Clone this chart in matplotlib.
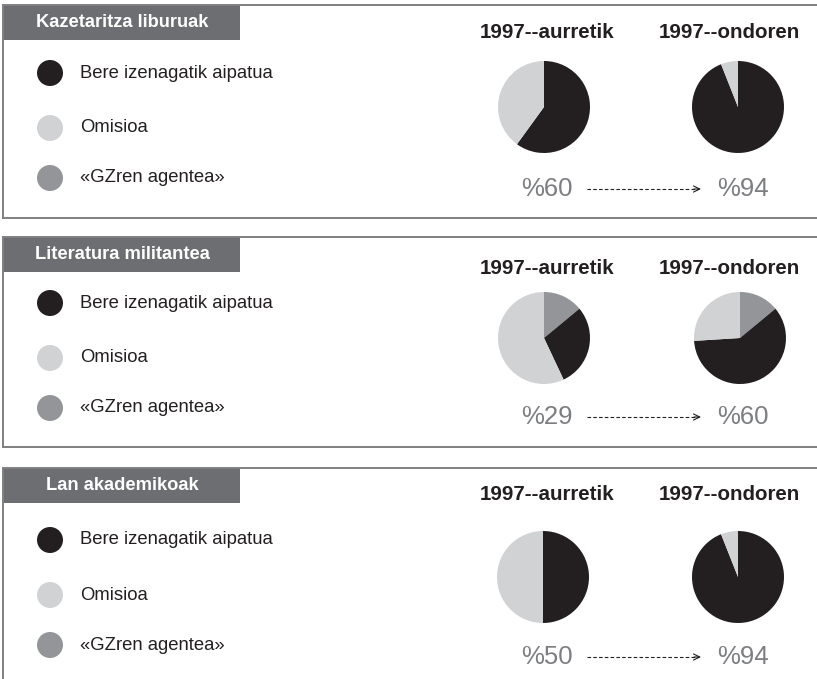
import matplotlib.pyplot as plt
from matplotlib.patches import Rectangle, Circle

plt.rcParams['font.family'] = ['Liberation Sans', 'DejaVu Sans']

W, H = 817, 679

# data
panel_titles = ["Kazetaritza liburuak", "Literatura militantea", "Lan akademikoak"]
legend_labels = ["Bere izenagatik aipatua", "Omisioa", "\u00abGZren agentea\u00bb"]
period_labels = ["1997--aurretik", "1997--ondoren"]
# shares per pie, in order: GZren agentea, aipatua, omisioa (clockwise from top)
before_gz = [0, 14, 0]
before_named = [60, 29, 50]
before_omit = [40, 57, 50]
after_gz = [0, 14, 0]
after_named = [94, 60, 94]
after_omit = [6, 26, 6]

c_black = '#231f20'
c_light = '#d1d2d4'
c_mid = '#939598'
c_head = '#6d6e71'
c_border = '#808080'
c_pct = '#7d7e81'

# layout (pixels)
tops = [5, 237, 468]
bottoms = [218, 447, None]
legend_y = [[73, 128, 178], [303, 358, 408], [540, 595, 645]]
year_y = [32, 268, 495]
pie_y = [107, 338, 577]
pct_y = [189, 417, 657]
pie_x = [[544, 738], [544, 740], [543, 738]]
r = 46

fig = plt.figure(figsize=(W / 100, H / 100), dpi=100)
bg = fig.add_axes([0, 0, 1, 1])
bg.set_xlim(0, W)
bg.set_ylim(H, 0)
bg.axis('off')

for i in range(3):
    top, bot = tops[i], bottoms[i]
    # box lines
    bg.plot([3, W], [top, top], color=c_border, lw=1.4)
    bg.plot([3, 3], [top, bot if bot else H], color=c_border, lw=1.4)
    if bot:
        bg.plot([3, W], [bot, bot], color=c_border, lw=1.4)
    # title tab
    bg.add_patch(Rectangle((3, top), 237, 35, facecolor=c_head, edgecolor='none'))
    bg.text(122, top + 17.5, panel_titles[i], color='white', fontsize=13.2,
            fontweight='bold', ha='center', va='center')
    # legend
    for y, lab, col in zip(legend_y[i], legend_labels, [c_black, c_light, c_mid]):
        bg.add_patch(Circle((50, y), 13, facecolor=col, edgecolor='none'))
        bg.text(80, y, lab, fontsize=13.3, color=c_black, ha='left', va='center')
    # period headers
    bg.text(547, year_y[i], period_labels[0], fontsize=14.8, fontweight='bold',
            color=c_black, ha='center', va='center')
    bg.text(729, year_y[i], period_labels[1], fontsize=14.8, fontweight='bold',
            color=c_black, ha='center', va='center')
    # pies
    sets = [[before_gz[i], before_named[i], before_omit[i]],
            [after_gz[i], after_named[i], after_omit[i]]]
    for cx, vals in zip(pie_x[i], sets):
        pax = fig.add_axes([(cx - r) / W, 1 - (pie_y[i] + r) / H, 2 * r / W, 2 * r / H])
        pax.pie(vals, colors=[c_mid, c_black, c_light], startangle=90,
                counterclock=False, radius=1, wedgeprops=dict(linewidth=0))
        pax.set_xlim(-1, 1)
        pax.set_ylim(-1, 1)
        pax.axis('off')
    # percentages + arrow
    y = pct_y[i]
    bg.text(547, y, f"%{before_named[i]}", fontsize=18.5, color=c_pct,
            ha='center', va='center')
    bg.text(743, y, f"%{after_named[i]}", fontsize=18.5, color=c_pct,
            ha='center', va='center')
    bg.plot([587, 698], [y, y], color=c_black, lw=0.8, linestyle=(0, (3.2, 2.0)))
    bg.annotate('', xy=(701, y), xytext=(694, y),
                arrowprops=dict(arrowstyle='->,head_length=0.45,head_width=0.22',
                                color=c_black, lw=0.8, shrinkA=0, shrinkB=0))

fig.savefig('out.png', dpi=100)
